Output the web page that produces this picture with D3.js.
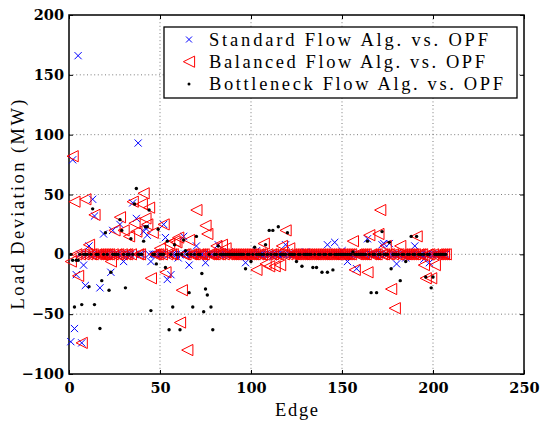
<!DOCTYPE html>
<html>
<head>
<meta charset="utf-8">
<script src="https://cdn.jsdelivr.net/npm/d3@7"></script>
<style>
  html, body { margin: 0; padding: 0; background: #fff; }
  svg { display: block; }
</style>
</head>
<body>
<svg id="chart" width="543" height="424"></svg>
<script>
// Load deviation per edge (edges 1..207), in MW, for each algorithm compared with OPF.
const standardDev = [
  -73, 79, -62, -17, 166, 0, -74, -9, -26, 0,
  7, 0, 46, 32, 0, 0, -28, 0, 17, 0,
  0, 0, -15, 20, 0, 0, 0, 25, 0, -6,
  0, 0, 0, 0, 43, 0, 30, 93, 0, 0,
  19, 22, 16, 0, -6, 0, 0, 0, 0, 0,
  0, 25, 14, -21, 0, -17, 0, 0, 0, -3,
  0, 0, 15, 0, 0, -9, 0, 0, 0, 7,
  0, 0, 0, 0, -7, 0, 0, 0, 0, 0,
  0, 8, 0, 0, 0, 0, 0, 2, 0, 0,
  0, 0, 0, 0, 0, 0, -7, 0, 0, 0,
  0, 0, 3, 0, 0, 0, 0, 0, 0, 0,
  0, -2, 0, 0, 0, 0, 0, 0, 8, 0,
  0, 0, 0, 0, 0, 0, 0, 0, 0, 2,
  0, 0, 0, 0, 0, 0, 0, 0, 0, 0,
  0, 8, 0, 0, 0, 10, 0, 0, 0, 3,
  0, 0, -6, 0, 0, 0, 0, -12, 0, 0,
  0, 0, 0, 13, 0, 0, 0, 0, 0, 0,
  0, 8, 9, 0, 0, 9, 0, 0, 0, -8,
  0, 0, 0, 0, -3, 0, 0, 0, 0, 7,
  0, 0, 0, 0, -4, 0, 0, -7, 0, 0,
  0, 0, 0, 0, 0, 0, 0
];

const balancedDev = [
  -6, 82, 44, 0, -18, 0, -74, 0, 46, 0,
  8, 0, 0, 33, 0, 0, 0, 0, 0, 0,
  0, 0, -6, 0, 20, 0, 0, 31, 0, 20,
  0, 0, 15, 0, 44, 26, 19, 0, 0, 42,
  51, 30, 25, 39, -20, 18, 0, 0, 0, 5,
  0, 25, -15, 0, 9, 0, 0, 11, 10, 14,
  -57, -30, 0, 0, -80, 12, 0, 0, 0, 37,
  0, 0, 0, 0, 24, 17, 0, 0, 0, 0,
  7, 0, 0, 8, 0, 5, 0, 0, 0, 0,
  0, 0, 0, 0, 0, 0, 0, 0, 0, 0,
  0, 0, -13, 0, 0, 0, 9, -8, 0, -10,
  0, 0, -10, 0, 0, -9, 7, 0, 20, 0,
  5, 0, 0, 0, 0, 0, 0, 0, 0, 0,
  0, 0, 0, 0, 0, 0, 0, 0, 0, 0,
  0, 0, 0, 0, 0, 0, 0, 0, 0, 0,
  0, 0, 0, 0, 0, 11, -13, 0, 0, 0,
  0, 0, 0, -15, 16, 0, 0, 0, 0, 17,
  37, 0, 0, 7, 0, 0, -29, 0, -45, 0,
  0, 7, 0, 0, 0, 0, 0, 0, 0, 0,
  15, 0, 0, 0, -9, -20, 0, 0, -20, 0,
  -9, 0, 0, 0, 0, 0, 0
];

const bottleneckDev = [
  0, -5, -44, -5, -5, 0, -42, 0, 0, 0,
  -27, 0, 38, -42, 0, 0, -62, -22, 0, 18,
  0, -30, -15, 0, 0, 0, 0, 29, 20, 0,
  -28, 0, 0, 13, 0, 42, 55, 0, 0, 0,
  11, 23, 23, 37, -47, 0, 0, -8, 21, 0,
  0, 0, -11, 11, -63, 0, -44, 8, 0, 0,
  -63, 0, 12, 3, 0, -32, 0, -44, 0, 15,
  0, 0, -16, -48, -29, -34, 0, -44, -63, 0,
  0, 7, 0, 0, 0, 0, 0, 0, 0, 0,
  0, 0, 0, 0, 0, 0, -12, 0, 0, -6,
  0, 6, 0, 0, 0, 0, 0, 8, 0, 20,
  0, 20, 0, 0, 23, 0, 0, 0, 0, 18,
  0, 0, 0, 0, -6, 0, 0, -10, 0, 0,
  0, 0, 0, -11, 0, -11, 0, 0, -15, 0,
  0, -15, 0, 0, -13, 0, 0, 0, 0, 0,
  0, 0, 0, 0, 0, 2, 0, 0, 0, 0,
  0, 0, 0, 11, 0, -32, 0, 0, -32, 0,
  0, 19, 0, 0, 0, 10, -12, 0, 0, 0,
  0, -22, 0, 0, -6, 0, 0, 15, 0, 0,
  15, 0, 0, 0, 0, -19, 0, 0, -28, -19,
  0, 0, 0, 0, 0, 0, 0
];

const xTicks = [0, 50, 100, 150, 200, 250];
const yTicks = [-100, -50, 0, 50, 100, 150, 200];
const seriesNames = [
  "Standard Flow Alg. vs. OPF",
  "Balanced Flow Alg. vs. OPF",
  "Bottleneck Flow Alg. vs. OPF"
];

const svg = d3.select("#chart");
const plotLeft = 69, plotRight = 524, plotTop = 15, plotBottom = 374;

const x = d3.scaleLinear().domain([0, 250]).range([plotLeft, plotRight]);
const y = d3.scaleLinear().domain([-100, 200]).range([plotBottom, plotTop]);

const tickFont = "'DejaVu Serif', serif";
const textFont = "'Liberation Serif', 'DejaVu Serif', serif";

// dotted grid
const grid = svg.append("g");
grid.selectAll("line.vx").data(xTicks.slice(1, -1)).join("line")
  .attr("x1", d => x(d)).attr("x2", d => x(d))
  .attr("y1", plotTop).attr("y2", plotBottom)
  .attr("stroke", "#444").attr("stroke-width", 0.7)
  .attr("stroke-dasharray", "1,2.6");
grid.selectAll("line.hy").data(yTicks.slice(1, -1)).join("line")
  .attr("x1", plotLeft).attr("x2", plotRight)
  .attr("y1", d => y(d)).attr("y2", d => y(d))
  .attr("stroke", "#444").attr("stroke-width", 0.7)
  .attr("stroke-dasharray", "1,2.6");

// axes with inward ticks on all four sides
const fmt = d => d < 0 ? "\u2212" + Math.abs(d) : String(d);
const axB = svg.append("g").attr("transform", `translate(0,${plotBottom})`)
  .call(d3.axisBottom(x).tickValues(xTicks).tickSizeInner(-4).tickSizeOuter(0).tickPadding(9).tickFormat(fmt));
const axT = svg.append("g").attr("transform", `translate(0,${plotTop})`)
  .call(d3.axisTop(x).tickValues(xTicks).tickSizeInner(-4).tickSizeOuter(0).tickFormat(""));
const axL = svg.append("g").attr("transform", `translate(${plotLeft},0)`)
  .call(d3.axisLeft(y).tickValues(yTicks).tickSizeInner(-4).tickSizeOuter(0).tickPadding(5).tickFormat(fmt));
const axR = svg.append("g").attr("transform", `translate(${plotRight},0)`)
  .call(d3.axisRight(y).tickValues(yTicks).tickSizeInner(-4).tickSizeOuter(0).tickFormat(""));

[axB, axT, axL, axR].forEach(a => {
  a.select(".domain").remove();
  a.selectAll(".tick line").attr("stroke", "#000").attr("stroke-width", 1);
  a.selectAll("text").attr("font-family", tickFont).attr("font-weight", "bold")
    .attr("font-size", 14.5).attr("fill", "#000");
});

// frame
svg.append("rect").attr("x", plotLeft).attr("y", plotTop)
  .attr("width", plotRight - plotLeft).attr("height", plotBottom - plotTop)
  .attr("fill", "none").attr("stroke", "#000").attr("stroke-width", 1.5);

// marker shapes
const crossPath = "M-3.6,-3.6L3.6,3.6M-3.6,3.6L3.6,-3.6";
const triPath = "M-5.6,0L5.6,-5.6L5.6,5.6Z";

const edgeOf = (d, i) => i + 1;
const marks = svg.append("g");

marks.append("g").selectAll("path").data(standardDev).join("path")
  .attr("transform", (d, i) => `translate(${x(edgeOf(d, i))},${y(d)})`)
  .attr("d", crossPath).attr("fill", "none").attr("stroke", "#0000ff").attr("stroke-width", 1);

marks.append("g").selectAll("path").data(balancedDev).join("path")
  .attr("transform", (d, i) => `translate(${x(edgeOf(d, i))},${y(d)})`)
  .attr("d", triPath).attr("fill", "none").attr("stroke", "#ff0000").attr("stroke-width", 1);

marks.append("g").selectAll("circle").data(bottleneckDev).join("circle")
  .attr("cx", (d, i) => x(edgeOf(d, i))).attr("cy", d => y(d))
  .attr("r", 1.7).attr("fill", "#000");

// axis titles
svg.append("text").attr("x", (plotLeft + plotRight) / 2).attr("y", 416)
  .attr("text-anchor", "middle").attr("font-family", textFont).attr("font-size", 18.5)
  .attr("textLength", 43).attr("lengthAdjust", "spacing")
  .text("Edge");
svg.append("text")
  .attr("transform", `translate(24,${(plotTop + plotBottom) / 2 + 10}) rotate(-90)`)
  .attr("text-anchor", "middle").attr("font-family", textFont).attr("font-size", 18.5)
  .attr("textLength", 210).attr("lengthAdjust", "spacing")
  .text("Load Deviation (MW)");

// legend
const lg = svg.append("g");
lg.append("rect").attr("x", 164).attr("y", 27).attr("width", 353).attr("height", 71)
  .attr("fill", "#fff").attr("stroke", "#000").attr("stroke-width", 1.3);
const rowY = [39.5, 61.7, 84];
const textW = [279, 276, 294];
rowY.forEach((ry, k) => {
  const g = lg.append("g").attr("transform", `translate(189,${ry})`);
  if (k === 0) g.append("path").attr("d", "M-3,-3L3,3M-3,3L3,-3").attr("stroke", "#0000ff").attr("fill", "none");
  if (k === 1) g.append("path").attr("d", triPath).attr("stroke", "#ff0000").attr("fill", "none");
  if (k === 2) g.append("circle").attr("r", 1.5).attr("fill", "#000");
  lg.append("text").attr("x", 209).attr("y", ry + 6)
    .attr("font-family", textFont).attr("font-size", 18.5)
    .attr("textLength", textW[k]).attr("lengthAdjust", "spacing")
    .text(seriesNames[k]);
});
</script>
</body>
</html>
